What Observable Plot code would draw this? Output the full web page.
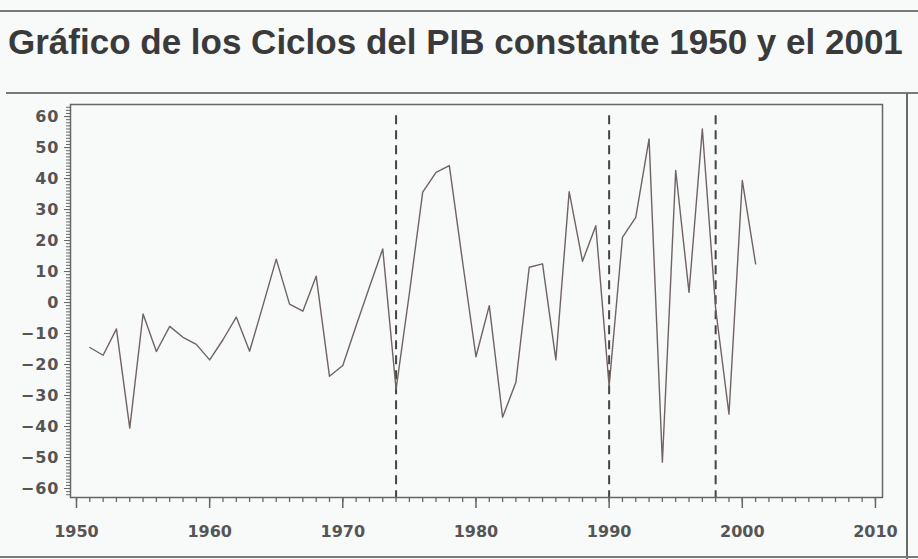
<!DOCTYPE html>
<html>
<head>
<meta charset="utf-8">
<script src="https://cdn.jsdelivr.net/npm/d3@7"></script>
<script src="https://cdn.jsdelivr.net/npm/@observablehq/plot@0.6"></script>
<style>
  html, body { margin: 0; padding: 0; background: #f8f9f9; }
  #page { position: relative; width: 918px; height: 559px; overflow: hidden; background: #f8f9f9; }
  #title { position: absolute; left: 8px; top: 20px; font-family: "Liberation Sans", Arial, sans-serif; font-weight: bold; font-size: 35px; color: #3a3a3a; white-space: nowrap; line-height: 44px; }
  .hline { position: absolute; height: 0; border-top: 2px solid #7a7a7a; }
  .vline { position: absolute; width: 0; border-left: 2px solid #6a6a6a; }
  #chart { position: absolute; left: 0; top: 93px; }
  #chart svg [aria-label="y-axis tick label"] text { letter-spacing: 1px; font-size: 16px; }
  #chart svg [aria-label="x-axis tick label"] text { font-size: 16px; }
</style>
</head>
<body>
<div id="page">
  <div class="hline" style="left:0; top:10px; width:918px;"></div>
  <div id="title">Gráfico de los Ciclos del PIB constante 1950 y el 2001</div>
  <div class="hline" style="left:6px; top:92px; width:912px;"></div>
  <div class="vline" style="left:906px; top:93px; height:466px;"></div>
  <div class="hline" style="left:0; top:556px; width:918px;"></div>
  <div id="chart"></div>
</div>
<script>
// Years of the series
const years = [1951,1952,1953,1954,1955,1956,1957,1958,1959,1960,
               1961,1962,1963,1964,1965,1966,1967,1968,1969,1970,
               1971,1972,1973,1974,1975,1976,1977,1978,1979,1980,
               1981,1982,1983,1984,1985,1986,1987,1988,1989,1990,
               1991,1992,1993,1994,1995,1996,1997,1998,1999,2000,
               2001];
// Cyclical component of constant GDP
const ciclo = [-14.5,-17,-8.5,-40.5,-3.7,-15.8,-7.7,-11.2,-13.5,-18.5,
               -12,-4.7,-15.7,-1,14,-0.5,-2.8,8.5,-23.8,-20.3,
               -7.5,5,17.3,-28,3,35.6,42,44.2,13,-17.5,
               -1,-37,-25.7,11.4,12.5,-18.5,35.8,13.3,24.8,-27,
               21,27.5,52.8,-51.5,42.6,3.3,56,-2,-36,39.4,
               12.5];
// Years marked with dashed vertical lines
const markedYears = [1974, 1990, 1998];
// Tick labels
const yTickValues = [-60,-50,-40,-30,-20,-10,0,10,20,30,40,50,60];
const xTickValues = [1950,1960,1970,1980,1990,2000,2010];
const yMinorTicks = d3.range(-62, 64, 1);
const xMinorTicks = d3.range(1950, 2011, 1);

const data = years.map((y, i) => ({year: y, value: ciclo[i]}));
const fmtY = d => d < 0 ? "\u2212" + (-d) : String(d);

const chart = Plot.plot({
  width: 918,
  height: 466,
  marginTop: 11,
  marginBottom: 62,
  marginLeft: 70,
  marginRight: 36,
  x: {domain: [1949.55, 2010.53], label: null},
  y: {domain: [-62.9, 63.9], label: null},
  style: {background: "transparent", fontFamily: "'DejaVu Sans', sans-serif", fontSize: "15px", fontWeight: "bold", color: "#555"},
  marks: [
    Plot.axisY({ticks: yMinorTicks, tickSize: 4, tickFormat: () => "", stroke: "#666", label: null}),
    Plot.axisY({ticks: yTickValues, tickSize: 6, tickPadding: 5, tickFormat: fmtY, stroke: "#666", fill: "#555", label: null}),
    Plot.axisX({ticks: xMinorTicks, tickSize: 5, tickFormat: () => "", stroke: "#666", strokeWidth: 1.3, label: null}),
    Plot.axisX({ticks: xTickValues, tickSize: 11, tickPadding: 17, tickFormat: d => String(d), stroke: "#666", strokeWidth: 1.5, fill: "#555", label: null}),
    Plot.ruleX(markedYears, {y1: 60.3, y2: -62.9, stroke: "#444", strokeWidth: 2, strokeDasharray: "9,6"}),
    Plot.line(data, {x: "year", y: "value", stroke: "#6e6462", strokeWidth: 1.4}),
    Plot.frame({stroke: "#666", strokeWidth: 1.5})
  ]
});
document.getElementById("chart").appendChild(chart);
</script>
</body>
</html>
